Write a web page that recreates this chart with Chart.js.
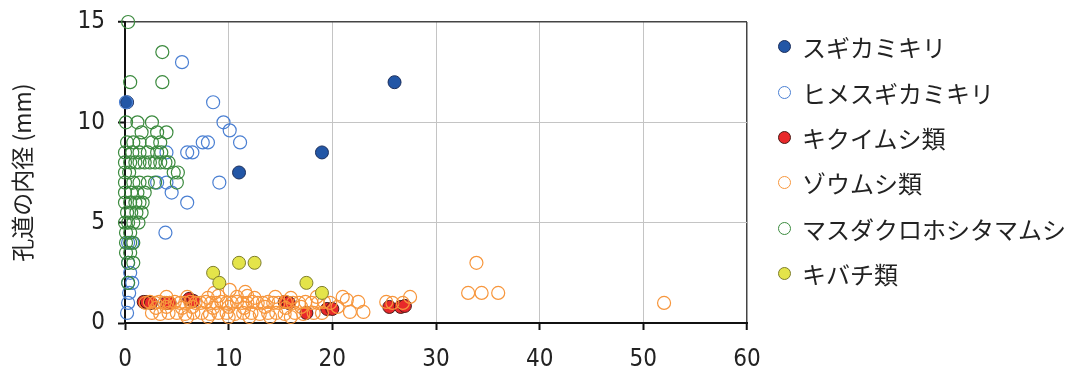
<!DOCTYPE html>
<html>
<head>
<meta charset="utf-8">
<script src="https://cdn.jsdelivr.net/npm/chart.js@4"></script>
<style>
  body { margin: 0; background: #fff; }
  #wrap { position: relative; width: 1077px; height: 372px; }
  #legend { position: absolute; left: 778px; top: 24px; font-family: 'Noto Sans CJK JP', sans-serif; font-size: 24px; color: #222; }
  #legend .row { display: flex; align-items: center; height: 45.4px; white-space: nowrap; }
  #legend .dot { width: 13px; height: 13px; border-radius: 50%; margin-right: 11px; box-sizing: border-box; }
</style>
</head>
<body>
<div id="wrap">
  <canvas id="chart" width="1077" height="372"></canvas>
  <div id="legend"></div>
</div>
<script>
const seriesNames = ['スギカミキリ', 'ヒメスギカミキリ', 'キクイムシ類', 'ゾウムシ類', 'マスダクロホシタマムシ', 'キバチ類'];

const sugiPts = [[0.2, 11], [11, 7.5], [19, 8.5], [26, 12]];

const himePts = [
    [5.5, 13], [8.5, 11], [0.1, 11], [9.5, 10], [10.1, 9.6], [11.1, 9], [7.5, 9], [8, 9],
    [4, 8.5], [6, 8.5], [6.5, 8.5], [9.1, 7], [3.1, 7], [4, 7], [4.5, 6.5], [6, 6],
    [3.9, 4.5], [0.3, 4], [0.7, 4], [0.3, 3], [0.5, 2.5], [0.3, 2], [0.7, 2],
    [0.4, 1.5], [0.3, 1], [0.2, 0.5]
];

const kikuiPts = [
    [1.8, 1.05], [2.1, 1.05], [2.5, 1], [4, 1], [4.3, 1], [6.2, 1.2], [6.6, 1.1],
    [15.4, 1.05], [15.8, 1], [17.5, 0.5], [19.5, 0.7], [20, 0.7],
    [25.5, 0.8], [26.6, 0.8], [27, 0.85]
];

const zoumushiPts = [
    [2, 1], [2.4, 1.05], [2.9, 1], [3.3, 1.05], [3.8, 1], [4.3, 1], [4.8, 1.05], [5.3, 1],
    [5.8, 1], [6.3, 1.05], [6.8, 1], [7.3, 1], [7.8, 1.05], [8.3, 1], [8.8, 1], [9.3, 1.05],
    [9.8, 1], [10.3, 1], [10.8, 1.05], [11.3, 1], [11.8, 1], [12.3, 1.05], [12.8, 1], [13.3, 1],
    [13.8, 1.05], [14.3, 1], [14.8, 1], [15.5, 1.05], [16.2, 1], [16.8, 1], [17.4, 1.05], [18, 1],
    [18.6, 1], [19.2, 1.05], [19.8, 1], [21.4, 1.15], [22.5, 1.05], [25.2, 1.05], [25.8, 1],
    [26.8, 1], [27.5, 1.3],
    [2.6, 0.5], [3.4, 0.45], [4.2, 0.5], [5, 0.5], [5.8, 0.45], [6.6, 0.5], [7.4, 0.5], [8.2, 0.45],
    [9, 0.5], [9.8, 0.5], [10.6, 0.45], [11.4, 0.5], [12.2, 0.5], [13, 0.45], [13.8, 0.5], [14.6, 0.5],
    [15.4, 0.45], [16.4, 0.5], [17.2, 0.45], [18.2, 0.5], [19, 0.5], [21.7, 0.55], [23, 0.55],
    [3, 0.75], [4, 0.8], [5.5, 0.75], [6.5, 0.8], [8.5, 0.75], [10, 0.8], [11.5, 0.75], [13.5, 0.8],
    [15.5, 0.75], [17, 0.8], [20.5, 0.8],
    [4, 1.3], [6, 1.3], [8, 1.25], [9, 1.35], [10.8, 1.3], [11.8, 1.35], [12.5, 1.25], [14.5, 1.3],
    [16, 1.25], [18.5, 1.3], [21, 1.3],
    [10.1, 1.65], [11.6, 1.55], [8.6, 1.5],
    [6, 0.3], [8, 0.3], [10, 0.3], [12, 0.3], [14, 0.3], [16, 0.3],
    [33.9, 3], [33.1, 1.5], [34.4, 1.5], [36, 1.5], [52, 1]
];

const masudaPts = [
    [0.3, 15], [3.6, 13.5], [0.5, 12], [3.6, 12],
    [0.1, 10], [1.2, 10], [2.6, 10],
    [1.6, 9.5], [3.1, 9.5], [4, 9.5],
    [0.2, 9], [0.8, 9], [1.4, 9], [2.6, 9], [3.4, 9],
    [0, 8.5], [0.7, 8.5], [1.4, 8.5], [2.2, 8.5], [3.1, 8.5], [3.5, 8.5],
    [0, 8], [0.5, 8], [1, 8], [1.4, 8], [1.9, 8], [2.4, 8], [2.9, 8], [3.4, 8], [3.9, 8], [4.2, 8],
    [0, 7.5], [0.4, 7.5], [4.7, 7.5], [5.1, 7.5],
    [0, 7], [0.8, 7], [1.4, 7], [2.2, 7], [2.9, 7], [5, 7],
    [0, 6.5], [0.6, 6.5], [1.2, 6.5], [1.9, 6.5],
    [0, 6], [0.5, 6], [1, 6], [1.4, 6], [1.7, 6],
    [0.2, 5.5], [0.6, 5.5], [1.1, 5.5], [1.6, 5.5],
    [0, 5], [0.3, 5], [0.8, 5], [1.3, 5],
    [0.1, 4.5], [0.5, 4.5],
    [0.1, 4], [0.5, 4], [0.8, 4],
    [0.1, 3.5], [0.5, 3.5],
    [0.3, 3], [0.8, 3],
    [0.3, 2]
];

const kibachiPts = [[8.5, 2.5], [9.1, 2], [11, 3], [12.5, 3], [17.5, 2], [19, 1.5]];

const xTicks = [0, 10, 20, 30, 40, 50, 60];
const yTicks = [0, 5, 10, 15];

const allPts = [sugiPts, himePts, kikuiPts, zoumushiPts, masudaPts, kibachiPts];
const fills = ['#2256a6', 'rgba(0,0,0,0)', '#e8282a', 'rgba(0,0,0,0)', 'rgba(0,0,0,0)', '#e4e44a'];
const strokes = ['#1c2f5c', '#4a7fd2', '#4a1a16', '#f7963c', '#3b8a3e', '#7d7d2c'];
const strokeW = [1, 1.2, 1, 1.2, 1.2, 1];

const tickFont = { family: "'Liberation Sans Narrow', 'DejaVu Sans Condensed', sans-serif", size: 24 };

const datasets = seriesNames.map((name, i) => ({
    label: name,
    data: allPts[i].map(p => ({ x: p[0], y: p[1] })),
    pointRadius: 6.5,
    pointHoverRadius: 6.5,
    pointBackgroundColor: fills[i],
    pointBorderColor: strokes[i],
    pointBorderWidth: strokeW[i],
    showLine: false,
    clip: false,
    order: seriesNames.length - i
}));

const chart = new Chart(document.getElementById('chart'), {
    type: 'scatter',
    data: { datasets: datasets },
    options: {
        responsive: false,
        animation: false,
        layout: { padding: { top: 22, right: 330, left: 0, bottom: 0 } },
        plugins: {
            legend: { display: false },
            tooltip: { enabled: false }
        },
        scales: {
            x: {
                min: 0, max: 60,
                afterFit: scale => {
                    scale.height = 49;
                    scale.paddingLeft = 0;
                    scale.paddingRight = 0;
                },
                afterBuildTicks: scale => { scale.ticks = xTicks.map(v => ({ value: v })); },
                ticks: { font: tickFont, color: '#222', padding: 15, maxRotation: 0 },
                grid: {
                    color: ctx => (ctx.tick && ctx.tick.value === 60 ? '#444' : '#c4c4c4'),
                    lineWidth: ctx => (ctx.tick && ctx.tick.value === 60 ? 1.5 : 1),
                    tickColor: '#111', tickLength: 7, tickWidth: 2
                },
                border: { color: '#111', width: 2 }
            },
            y: {
                min: 0, max: 15,
                afterFit: scale => {
                    scale.width = 125;
                    scale.paddingTop = 0;
                    scale.paddingBottom = 0;
                },
                afterBuildTicks: scale => { scale.ticks = yTicks.map(v => ({ value: v })); },
                ticks: { font: tickFont, color: '#222', padding: 13 },
                grid: {
                    color: ctx => (ctx.tick && ctx.tick.value === 15 ? '#444' : '#c4c4c4'),
                    lineWidth: ctx => (ctx.tick && ctx.tick.value === 15 ? 1.5 : 1),
                    tickColor: '#111', tickLength: 7, tickWidth: 2
                },
                border: { color: '#111', width: 2 },
                title: {
                    display: true,
                    text: '孔道の内径 (mm)',
                    color: '#222',
                    font: { family: "'Noto Sans CJK JP', sans-serif", size: 23 },
                    padding: { top: 8, bottom: 0 }
                }
            }
        }
    }
});

const legend = document.getElementById('legend');
chart.data.datasets.forEach(ds => {
    const row = document.createElement('div');
    row.className = 'row';
    const dot = document.createElement('span');
    dot.className = 'dot';
    dot.style.background = ds.pointBackgroundColor;
    dot.style.border = ds.pointBorderWidth + 'px solid ' + ds.pointBorderColor;
    const txt = document.createElement('span');
    txt.textContent = ds.label;
    row.appendChild(dot);
    row.appendChild(txt);
    legend.appendChild(row);
});
</script>
</body>
</html>
